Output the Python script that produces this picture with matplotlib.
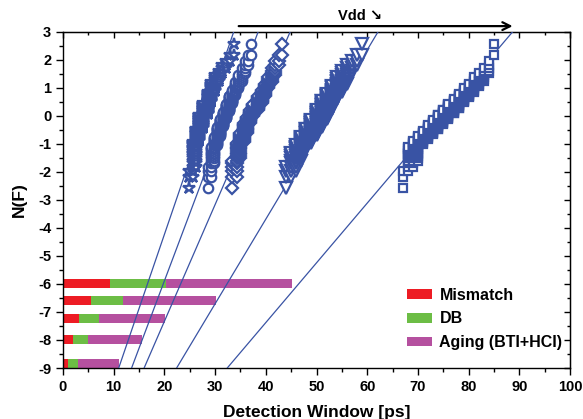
import numpy as np
import matplotlib
matplotlib.use("Agg")
import matplotlib.pyplot as plt
from statistics import NormalDist

plt.rcParams['font.family'] = ['Liberation Sans', 'DejaVu Sans']
plt.rcParams['font.weight'] = 'bold'
plt.rcParams['axes.unicode_minus'] = False

# Monte-Carlo runs per supply voltage (100 runs each). Every detection-window
# value (ps) covers a span of run ranks [first, last] in the sorted CDF.
N_RUNS = 100

window_stars = [24.9, 25.6, 26.2, 26.9, 27.7, 28.5, 29.2, 30.0, 30.7, 31.4, 32.2, 33.0, 33.8]
first_stars = [1, 2, 4, 19, 34, 53, 69, 82, 90, 94, 96, 98, 99]
last_stars = [3, 18, 33, 52, 68, 81, 89, 93, 95, 97, 98, 99, 100]

window_circles = [28.6, 29.2, 29.8, 30.4, 31.0, 31.6, 32.2, 32.8, 33.4, 34.0, 34.6, 35.2, 35.9, 36.5, 37.0]
first_circles = [1, 2, 5, 15, 24, 36, 47, 57, 68, 78, 84, 90, 94, 97, 99]
last_circles = [4, 14, 23, 35, 46, 56, 67, 77, 83, 89, 93, 96, 98, 99, 100]

window_diamonds = [33.4, 34.3, 34.9, 35.6, 36.2, 36.9, 37.5, 38.5, 39.2, 39.8, 40.5, 41.2, 41.8, 42.5, 43.1]
first_diamonds = [1, 2, 7, 18, 28, 41, 50, 59, 68, 77, 84, 89, 93, 97, 99]
last_diamonds = [6, 17, 27, 40, 49, 58, 67, 76, 83, 88, 92, 96, 98, 99, 100]

window_triangles = [44, 45, 46, 47, 48, 49, 50, 51, 52, 53, 54, 55, 56, 57, 58, 59]
first_triangles = [1, 2, 3, 6, 12, 17, 25, 35, 46, 60, 73, 81, 88, 94, 97, 99]
last_triangles = [4, 10, 15, 23, 33, 44, 58, 71, 79, 86, 92, 95, 97, 98, 99, 100]

window_squares = [67, 68, 69, 70, 71, 72, 73, 74, 75, 76, 77, 78, 79, 80, 81, 82, 83, 84, 85]
first_squares = [1, 3, 4, 6, 16, 21, 26, 32, 39, 46, 54, 61, 69, 75, 81, 86, 90, 94, 99]
last_squares = [3, 14, 19, 24, 30, 37, 44, 52, 59, 67, 73, 79, 84, 88, 92, 94, 96, 98, 100]

# Normal fits: window = mean + sigma * N(F)
fit_mean = [28.0, 32.25, 37.6, 52.2, 74.6]
fit_sigma = [1.89, 2.08, 2.40, 3.31, 4.69]

# Contribution breakdown bars (ps)
bar_levels = [-6.0, -6.6, -7.25, -8.0, -8.85]
mismatch = [9.3, 5.5, 3.2, 2.0, 1.0]
db = [11.0, 6.4, 4.0, 2.9, 1.9]
aging = [24.8, 18.3, 12.9, 10.6, 8.1]

BLUE = '#3953a4'
RED = '#ed1c24'
GREEN = '#6cbd45'
MAGENTA = '#b5509f'

fig = plt.figure(figsize=(5.83, 4.19), dpi=100)
ax = fig.add_axes([0.108, 0.1217, 0.870, 0.8026])

# stacked contribution bars
h = 0.32
ax.barh(bar_levels, mismatch, height=h, color=RED, label='Mismatch', zorder=2)
ax.barh(bar_levels, db, left=mismatch, height=h, color=GREEN, label='DB', zorder=2)
left2 = np.array(mismatch) + np.array(db)
ax.barh(bar_levels, aging, left=left2, height=h, color=MAGENTA,
        label='Aging (BTI+HCI)', zorder=2)

# fitted lines
nn = np.array([-9.5, 3.5])
for m, s in zip(fit_mean, fit_sigma):
    ax.plot(m + s * nn, nn, color=BLUE, lw=0.9, zorder=3)

inv = NormalDist().inv_cdf


def probit_points(values, first, last):
    xs, ns = [], []
    for v, a, b in zip(values, first, last):
        for r in range(a, b + 1):
            xs.append(v)
            ns.append(inv((r - 0.5) / N_RUNS))
    return np.array(xs), np.array(ns)


series = [
    (window_stars, first_stars, last_stars, '*', 9.0),
    (window_circles, first_circles, last_circles, 'o', 6.8),
    (window_diamonds, first_diamonds, last_diamonds, 'D', 5.9),
    (window_triangles, first_triangles, last_triangles, 'v', 8.0),
    (window_squares, first_squares, last_squares, 's', 6.4),
]
for vals, a, b, mk, ms in series:
    x, nf = probit_points(vals, a, b)
    ax.plot(x, nf, linestyle='none', marker=mk, ms=ms, mfc='white',
            mec=BLUE, mew=1.6, zorder=4)

ax.set_xlim(0, 100)
ax.set_ylim(-9, 3)
ax.set_xticks(np.arange(0, 101, 10))
ax.set_xticks(np.arange(0, 101, 5), minor=True)
ax.set_yticks(np.arange(-9, 4, 1))
ax.set_yticks(np.arange(-9, 3.01, 0.5), minor=True)
ax.tick_params(which='both', direction='out', top=False, right=False,
               labelsize=10.5, width=1.0)
ax.tick_params(which='major', length=5)
ax.tick_params(which='minor', length=3)
for lab in ax.get_xticklabels() + ax.get_yticklabels():
    lab.set_fontweight('bold')

# inward ticks on the top and right edges
sec_x = ax.secondary_xaxis('top')
sec_x.set_xticks(np.arange(0, 101, 10))
sec_x.set_xticks(np.arange(0, 101, 5), minor=True)
sec_x.tick_params(which='both', direction='in', labeltop=False, width=1.0)
sec_x.tick_params(which='major', length=4)
sec_x.tick_params(which='minor', length=2.5)
sec_y = ax.secondary_yaxis('right')
sec_y.set_yticks(np.arange(-9, 4, 1))
sec_y.set_yticks(np.arange(-9, 3.01, 0.5), minor=True)
sec_y.tick_params(which='both', direction='in', labelright=False, width=1.0)
sec_y.tick_params(which='major', length=4)
sec_y.tick_params(which='minor', length=2.5)

for sp in ax.spines.values():
    sp.set_linewidth(1.0)

ax.set_xlabel('Detection Window [ps]', fontsize=12.5, fontweight='bold', labelpad=8)
ax.set_ylabel('N(F)', fontsize=12.5, fontweight='bold', labelpad=8)

# supply-voltage arrow above the plot
ax.annotate('', xy=(89.2, 3.2), xytext=(34.1, 3.2), xycoords='data',
            annotation_clip=False,
            arrowprops=dict(arrowstyle='->', color='black', lw=1.6,
                            mutation_scale=14))
ax.text(58.5, 3.55, 'Vdd \u2198', ha='center', va='center', fontsize=10.5,
        fontweight='bold', clip_on=False)

leg = ax.legend(loc='upper left', bbox_to_anchor=(0.665, 0.258), frameon=False,
                fontsize=11.5, handlelength=1.6, handleheight=0.55,
                handletextpad=0.45, labelspacing=0.55, borderaxespad=0.0)
for t in leg.get_texts():
    t.set_fontweight('bold')

fig.savefig('out.png', dpi=100)
